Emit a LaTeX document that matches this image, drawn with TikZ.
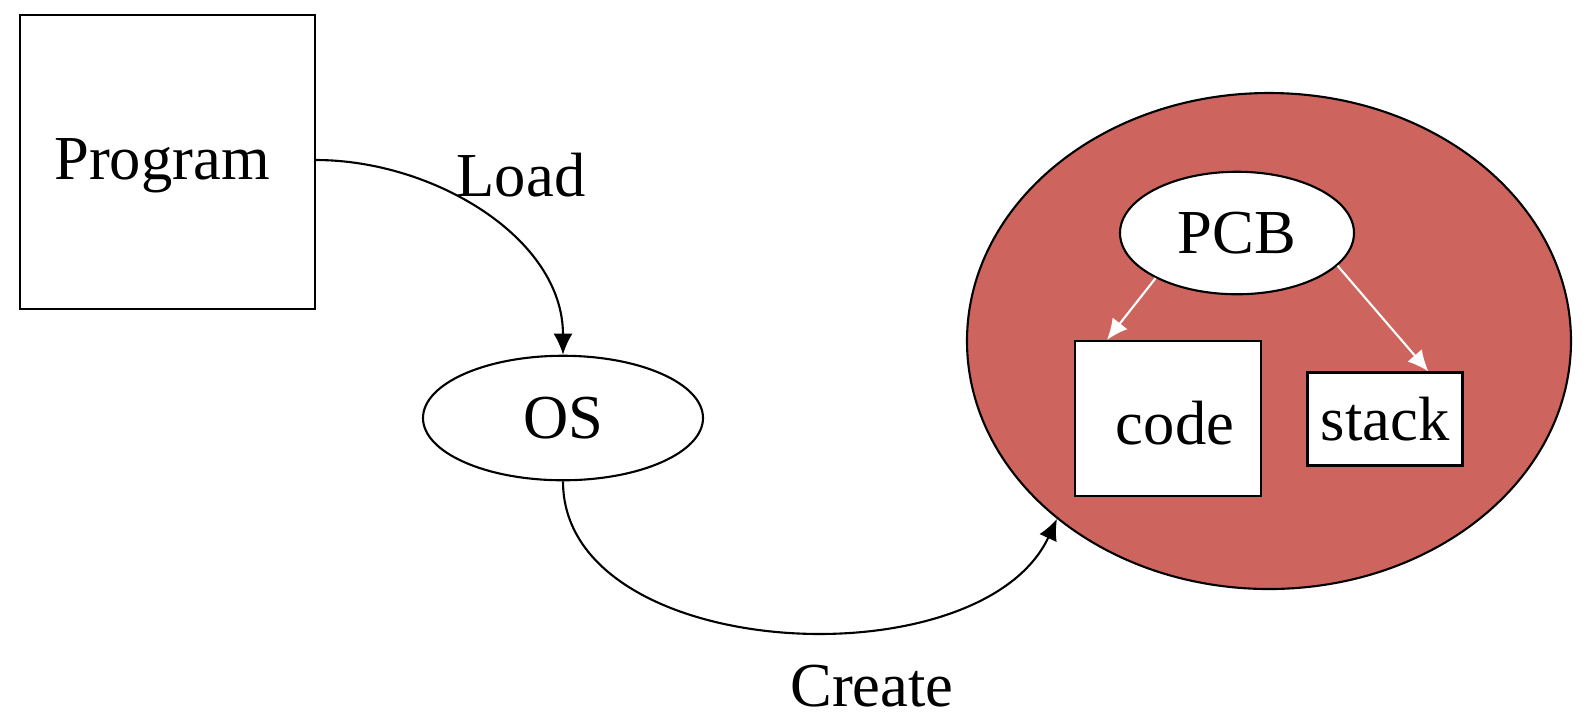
\documentclass[tikz,border=0pt]{standalone}
\usepackage{fontspec}
\setmainfont{Liberation Serif}
\usetikzlibrary{shapes.geometric,arrows.meta}
\definecolor{procred}{RGB}{205,101,94}

\begin{document}
\begin{tikzpicture}[font=\fontsize{17.8}{21}\selectfont, line width=0.6pt,
  tip/.style={-{Latex[length=2.1mm,width=1.9mm]}}]
  \useasboundingbox (0,0) rectangle (15.87,-7.26);
  \node (program) at (1.675,-1.62) [draw, minimum width=2.95cm, minimum height=2.94cm] {};
  \node (progtext) at (1.62,-1.66) {Program};
  \node (os)      at (5.63,-4.18)  [draw, ellipse, minimum width=2.80cm, minimum height=1.245cm] {OS};
  \node (proc)    at (12.69,-3.41) [draw, ellipse, fill=procred, minimum width=6.04cm, minimum height=4.96cm] {};
  \node (pcb)     at (12.37,-2.33) [draw, ellipse, fill=white, minimum width=2.34cm, minimum height=1.225cm] {PCB};
  \node (code)    at (11.68,-4.185) [draw, fill=white, minimum width=1.86cm, minimum height=1.55cm] {};
  \node (codetext) at (11.75,-4.23) {code};
  \node (stack)   at (13.85,-4.19) [draw, fill=white, minimum width=1.55cm, minimum height=0.93cm, inner sep=0pt] {stack};
  \node (load)    at (5.21,-1.75) {Load};
  \node (create)  at (8.72,-6.86) {Create};

  \draw[tip] (program.east) ++(0,0.02) coordinate (ldstart)
    (ldstart) to[out=0, in=90, looseness=0.95] (os.north);
  \draw[tip] (os.south) to[out=-90, in=-115, looseness=0.94] (proc.-140);
  \draw[tip, white] (pcb.-151) -- ([xshift=0.33cm]code.north west);
  \draw[tip, white] (pcb.-18) -- ([xshift=1.22cm]stack.north west);
\end{tikzpicture}
\end{document}
